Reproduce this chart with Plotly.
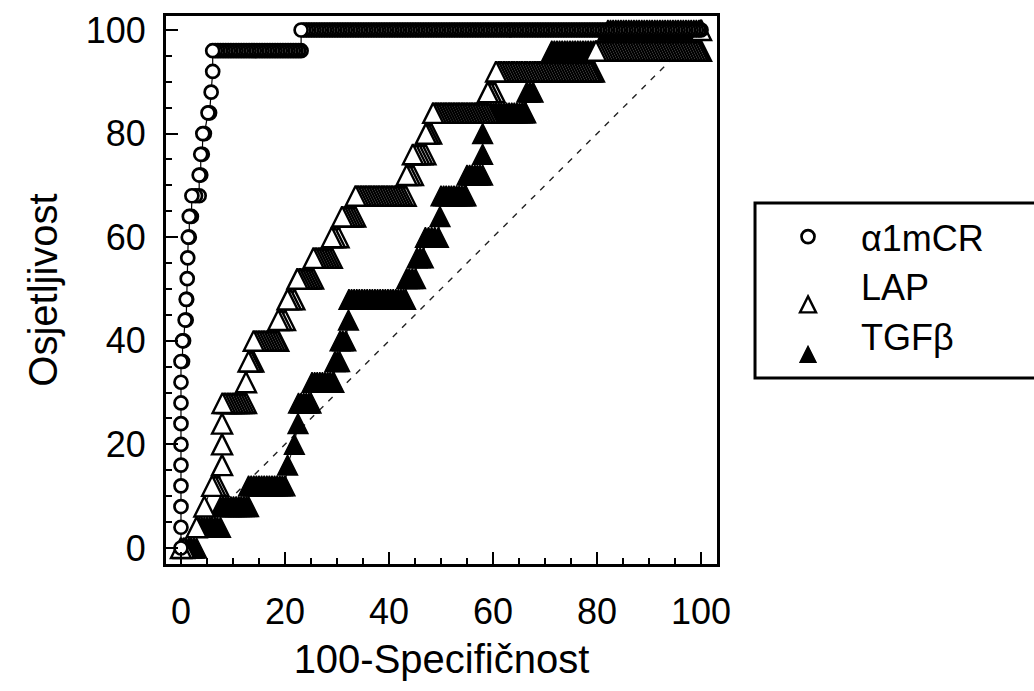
import plotly.graph_objects as go

# ---------------- data ----------------
# Sensitivity levels (%) and, for each level, the 100-specificity values (%) of the points
a1_sens = [0, 4, 8, 12, 16, 20, 24, 28, 32, 36, 40, 44, 48, 52, 56, 60, 64, 68,
           72, 76, 80, 84, 88, 92, 96, 100]
a1_fpr = [
    [0.0], [0.0], [0.0], [0.0], [0.0], [0.0], [0.0], [0.0], [0.0],
    [0.0, 0.3], [0.3, 0.5], [0.8, 1.0], [1.0, 1.1], [1.2], [1.3], [1.4, 1.6],
    [1.6, 2.0], [2.1, 2.8, 3.5], [3.5, 3.8], [3.8, 4.1], [4.2, 4.5], [5.2, 5.5],
    [5.8], [6.1],
    [6.1, 6.6, 7.1, 7.6, 8.1, 8.6, 9.1, 9.6, 10.1, 10.6, 11.1, 11.6, 12.1, 12.6,
     13.1, 13.6, 14.1, 14.6, 15.1, 15.6, 16.1, 16.6, 17.1, 17.6, 18.1, 18.6, 19.1,
     19.6, 20.1, 20.6, 21.1, 21.6, 22.1, 22.6, 23.1],
    [23.1, 23.6, 24.1, 24.6, 25.1, 25.6, 26.1, 26.6, 27.1, 27.6, 28.1, 28.6, 29.1,
     29.6, 30.1, 30.6, 31.1, 31.6, 32.1, 32.6, 33.1, 33.6, 34.1, 34.6, 35.1, 35.6,
     36.1, 36.6, 37.1, 37.6, 38.1, 38.6, 39.1, 39.6, 40.1, 40.6, 41.1, 41.6, 42.1,
     42.6, 43.1, 43.6, 44.1, 44.6, 45.1, 45.6, 46.1, 46.6, 47.1, 47.6, 48.1, 48.6,
     49.1, 49.6, 50.1, 50.6, 51.1, 51.6, 52.1, 52.6, 53.1, 53.6, 54.1, 54.6, 55.1,
     55.6, 56.1, 56.6, 57.1, 57.6, 58.1, 58.6, 59.1, 59.6, 60.1, 60.6, 61.1, 61.6,
     62.1, 62.6, 63.1, 63.6, 64.1, 64.6, 65.1, 65.6, 66.1, 66.6, 67.1, 67.6, 68.1,
     68.6, 69.1, 69.6, 70.1, 70.6, 71.1, 71.6, 72.1, 72.6, 73.1, 73.6, 74.1, 74.6,
     75.1, 75.6, 76.1, 76.6, 77.1, 77.6, 78.1, 78.6, 79.1, 79.6, 80.1, 80.6, 81.1,
     81.6, 82.1, 82.6, 83.1, 83.6, 84.1, 84.6, 85.1, 85.6, 86.1, 86.6, 87.1, 87.6,
     88.1, 88.6, 89.1, 89.6, 90.1, 90.6, 91.1, 91.6, 92.1, 92.6, 93.1, 93.6, 94.1,
     94.6, 95.1, 95.6, 96.1, 96.6, 97.1, 97.6, 98.1, 98.6, 99.1, 99.6, 100.0],
]

lap_sens = [0, 4, 8, 12, 16, 20, 24, 28, 32, 36, 40, 44, 48, 52, 56, 60, 64, 68,
            72, 76, 80, 84, 88, 92, 96, 100]
lap_fpr = [
    [0.0, 0.6], [3.0], [4.5], [6.0, 6.6, 7.2], [7.9], [7.9], [7.9],
    [8.0, 8.5, 9.0, 9.5, 10.0, 10.5, 11.0, 11.5, 12.0, 12.5],
    [12.5], [13.0, 13.5, 13.9],
    [14.0, 14.5, 15.0, 15.5, 16.0, 16.5, 17.0, 17.5, 18.0, 18.5, 18.7],
    [18.7, 19.3, 20.0], [20.5, 21.1, 21.8],
    [22.4, 22.9, 23.4, 23.9, 24.4, 24.9, 25.4],
    [25.5, 26.0, 26.5, 27.0, 27.5, 28.0, 28.5, 29.0],
    [29.0, 29.6, 30.3],
    [31.0, 31.5, 32.0, 32.5, 33.0, 33.5],
    [33.6, 34.1, 34.6, 35.1, 35.6, 36.1, 36.6, 37.1, 37.6, 38.1, 38.6, 39.1, 39.6,
     40.1, 40.6, 41.1, 41.6, 42.1, 42.6, 43.2],
    [43.4, 44.0, 44.6],
    [44.6, 45.2, 45.8, 46.4, 47.0],
    [47.1, 47.6, 48.1],
    [48.5, 49.0, 49.5, 50.0, 50.5, 51.0, 51.5, 52.0, 52.5, 53.0, 53.5, 54.0, 54.5,
     55.0, 55.5, 56.0, 56.5, 57.0, 57.5, 58.0, 58.5, 59.0],
    [59.0, 59.6, 60.3],
    [60.6, 61.1, 61.6, 62.1, 62.6, 63.1, 63.6, 64.1, 64.6, 65.1, 65.6, 66.1, 66.6,
     67.1, 67.6, 68.1, 68.6, 69.1, 69.6, 70.1, 70.6, 71.1, 71.6, 72.1, 72.6, 73.1,
     73.6, 74.1, 74.6, 75.1, 75.6, 76.1, 76.6, 77.1, 77.6, 78.1, 78.6, 79.0, 79.4],
    [79.8, 80.3, 80.8, 81.3, 81.8, 82.3, 82.8, 83.3, 83.8, 84.3, 84.8, 85.3, 85.8,
     86.3, 86.8, 87.3, 87.8, 88.3, 88.8, 89.3, 89.8, 90.3, 90.8, 91.3, 91.8, 92.3,
     92.8, 93.3, 93.8, 94.3, 94.8, 95.3, 95.8, 96.3, 96.8, 97.3, 97.8, 98.3, 98.8,
     99.3, 99.7, 100.0],
    [100.0],
]

tgf_sens = [0, 4, 8, 12, 16, 20, 24, 28, 32, 36, 40, 44, 48, 52, 56, 60, 64, 68,
            72, 76, 80, 84, 88, 92, 96, 100]
tgf_fpr = [
    [0.0, 0.5, 1.0, 1.5, 2.0, 2.5, 3.0],
    [3.0, 3.5, 4.0, 4.5, 5.0, 5.5, 6.0, 6.5, 7.0, 7.6],
    [7.6, 8.1, 8.6, 9.1, 9.6, 10.1, 10.6, 11.1, 11.6, 12.1, 12.6, 13.0],
    [13.0, 13.5, 14.0, 14.5, 15.0, 15.5, 16.0, 16.5, 17.0, 17.5, 18.0, 18.5, 19.0,
     19.5, 20.0],
    [20.5], [21.8], [22.5],
    [22.6, 23.1, 23.6, 24.1, 24.6, 25.0],
    [25.2, 25.7, 26.2, 26.7, 27.2, 27.7, 28.2, 28.7, 29.2, 29.4],
    [29.6, 30.1, 30.5],
    [30.6, 31.1, 31.7],
    [32.2],
    [32.3, 32.8, 33.3, 33.8, 34.3, 34.8, 35.3, 35.8, 36.3, 36.8, 37.3, 37.8, 38.3,
     38.8, 39.3, 39.8, 40.3, 40.8, 41.3, 41.8, 42.3, 42.8, 43.2],
    [43.4, 43.9, 44.5, 45.1],
    [45.4, 46.0, 46.6],
    [47.0, 47.6, 48.2, 48.8, 49.5],
    [49.8],
    [50.0, 50.5, 51.0, 51.5, 52.0, 52.5, 53.0, 53.5, 54.0, 54.5, 54.8],
    [55.0, 55.5, 56.0, 56.5, 57.0, 57.5, 58.0],
    [58.0], [58.0],
    [58.1, 58.6, 59.1, 59.6, 60.1, 60.6, 61.1, 61.6, 62.1, 62.6, 63.1, 63.6, 64.1,
     64.6, 65.1, 65.6, 66.0, 66.3],
    [66.5, 67.1, 67.7],
    [68.0, 68.5, 69.0, 69.5, 70.0, 70.5, 71.0],
    [71.3, 71.8, 72.3, 72.8, 73.3, 73.8, 74.3, 74.8, 75.3, 75.8, 76.3, 76.8, 77.3,
     77.8, 78.3, 78.8, 79.3, 79.8, 80.3, 80.8, 81.3, 81.7, 82.0],
    [82.1, 82.6, 83.1, 83.6, 84.1, 84.6, 85.1, 85.6, 86.1, 86.6, 87.1, 87.6, 88.1,
     88.6, 89.1, 89.6, 90.1, 90.6, 91.1, 91.6, 92.1, 92.6, 93.1, 93.6, 94.1, 94.6,
     95.1, 95.6, 96.1, 96.6, 97.1, 97.6, 98.1, 98.6, 99.1, 99.6, 100.0],
]

diag_x = [0, 100]
diag_y = [0, 100]

x_ticks = [0, 20, 40, 60, 80, 100]
y_ticks = [0, 20, 40, 60, 80, 100]

names = ["α1mCR", "LAP", "TGFβ"]
x_title = "100-Specifičnost"
y_title = "Osjetljivost"


def flatten(levels, runs):
    xs, ys = [], []
    for lvl, run in zip(levels, runs):
        for v in run:
            xs.append(v)
            ys.append(lvl)
    # points are plotted from the upper-right end back to the origin
    return xs[::-1], ys[::-1]


a1_x, a1_y = flatten(a1_sens, a1_fpr)
lap_x, lap_y = flatten(lap_sens, lap_fpr)
tgf_x, tgf_y = flatten(tgf_sens, tgf_fpr)

FONT = "Liberation Sans, Arial, sans-serif"
TRI = 20

fig = go.Figure()

fig.add_trace(go.Scatter(
    x=diag_x, y=diag_y, mode="lines", showlegend=False, hoverinfo="skip",
    line=dict(color="#222222", width=1.4, dash="6px,7px")))

# TGFβ (filled triangles)
fig.add_trace(go.Scatter(
    x=tgf_x, y=tgf_y, mode="lines", showlegend=False, hoverinfo="skip",
    line=dict(color="black", width=1)))
fig.add_trace(go.Scatter(
    x=tgf_x, y=tgf_y, mode="markers", name=names[2],
    marker=dict(symbol="arrow-down", angle=180, standoff=TRI / 2, size=TRI,
                color="black", line=dict(color="black", width=1.4))))

# LAP (open triangles)
fig.add_trace(go.Scatter(
    x=lap_x, y=lap_y, mode="lines", showlegend=False, hoverinfo="skip",
    line=dict(color="black", width=1)))
fig.add_trace(go.Scatter(
    x=lap_x, y=lap_y, mode="markers", name=names[1],
    marker=dict(symbol="arrow-down", angle=180, standoff=TRI / 2, size=TRI,
                color="white", line=dict(color="black", width=2.4))))

# α1mCR (open circles)
fig.add_trace(go.Scatter(
    x=a1_x, y=a1_y, mode="lines", showlegend=False, hoverinfo="skip",
    line=dict(color="black", width=1.2)))
fig.add_trace(go.Scatter(
    x=a1_x, y=a1_y, mode="markers", name=names[0],
    marker=dict(symbol="circle", size=13, color="white",
                line=dict(color="black", width=2.7))))

axis_common = dict(
    showgrid=False, zeroline=False, showline=True, linecolor="black",
    linewidth=3, mirror=True, ticks="inside", tickwidth=2, tickcolor="black",
    ticklen=12, tickfont=dict(family=FONT, size=36, color="black"),
    minor=dict(ticks="inside", ticklen=6, tickwidth=2, tickcolor="black", dtick=5),
)

fig.update_layout(
    width=1034, height=691,
    margin=dict(l=166, r=317, t=16, b=127, autoexpand=False),
    paper_bgcolor="white", plot_bgcolor="white",
    font=dict(family=FONT, color="black"),
    xaxis=dict(range=[-2.88, 103.07], tickvals=x_ticks, ticklabelstandoff=14,
               title=dict(text=x_title, font=dict(family=FONT, size=40), standoff=14),
               **axis_common),
    yaxis=dict(range=[-3.09, 102.7], tickvals=y_ticks, ticklabelstandoff=10,
               title=dict(text=y_title, font=dict(family=FONT, size=40), standoff=16),
               **axis_common),
    legend=dict(x=1.069, y=0.652, xanchor="left", yanchor="top",
                borderwidth=0, bgcolor="rgba(0,0,0,0)",
                font=dict(family=FONT, size=36, color="black"),
                itemwidth=96, traceorder="reversed"),
    shapes=[dict(type="rect", xref="paper", yref="paper",
                 x0=1.069, x1=1.6, y0=0.3394, y1=0.6588,
                 line=dict(color="black", width=3), fillcolor="rgba(0,0,0,0)",
                 layer="above")],
)

fig.write_html("out.html")
